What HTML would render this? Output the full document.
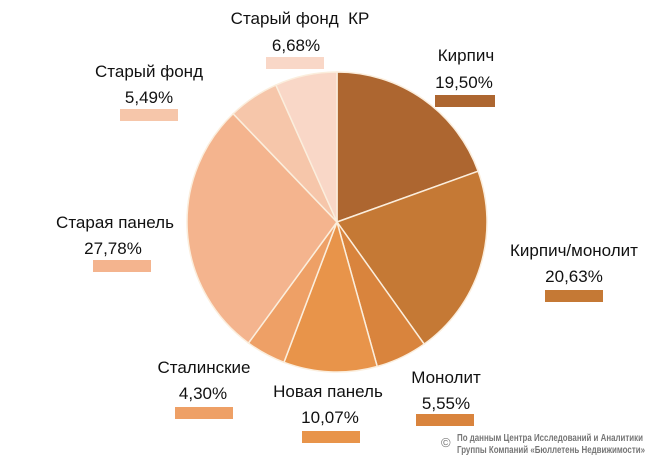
<!DOCTYPE html>
<html><head><meta charset="utf-8"><style>
body{margin:0;background:#fff;width:660px;height:460px;overflow:hidden;font-family:"Liberation Sans","DejaVu Sans",sans-serif}
svg text{font-family:"Liberation Sans","DejaVu Sans",sans-serif;fill:#111}
</style></head><body>
<svg id="s" width="660" height="460" xmlns="http://www.w3.org/2000/svg">
<g id="pie"></g>
<g font-size="17" text-anchor="middle">
<text x="300" y="24" xml:space="preserve">Старый фонд  КР</text><text x="296" y="51">6,68%</text>
<rect x="266" y="57" width="58" height="12" fill="#f9d7c7"/>
<text x="466" y="61">Кирпич</text><text x="464" y="88">19,50%</text>
<rect x="435" y="95" width="60" height="12" fill="#ad6630"/>
<text x="149" y="77">Старый фонд</text><text x="149" y="103">5,49%</text>
<rect x="120" y="109" width="58" height="12" fill="#f6c6aa"/>
<text x="115" y="228">Старая панель</text><text x="113" y="254">27,78%</text>
<rect x="93" y="260" width="58" height="12" fill="#f4b48e"/>
<text x="574" y="256">Кирпич/монолит</text><text x="574" y="282">20,63%</text>
<rect x="545" y="290" width="58" height="12" fill="#c57935"/>
<text x="204" y="373">Сталинские</text><text x="203" y="399">4,30%</text>
<rect x="175" y="407" width="58" height="12" fill="#eea066"/>
<text x="446" y="383">Монолит</text><text x="446" y="409">5,55%</text>
<rect x="416" y="414" width="58" height="12" fill="#d9843d"/>
<text x="328" y="397">Новая панель</text><text x="330" y="423">10,07%</text>
<rect x="302" y="431" width="58" height="12" fill="#e8944a"/>
</g>
<text x="441" y="447" font-size="13" style="fill:#777">©</text>
<g font-size="10" font-weight="bold"><text x="457" y="441" textLength="186" lengthAdjust="spacingAndGlyphs" style="fill:#777">По данным Центра Исследований и Аналитики</text><text x="457" y="453" textLength="188" lengthAdjust="spacingAndGlyphs" style="fill:#777">Группы Компаний «Бюллетень Недвижимости»</text></g>
</svg>
<script>
var d=[[19.5,"#ad6630"],[20.63,"#c57935"],[5.55,"#d9843d"],[10.07,"#e8944a"],[4.30,"#eea066"],[27.78,"#f4b48e"],[5.49,"#f6c6aa"],[6.68,"#f9d7c7"]];
var cx=337,cy=222,r=150,a=0,h="";
d.forEach(function(p){var a1=a+p[0]/100*2*Math.PI;
var x0=cx+r*Math.sin(a),y0=cy-r*Math.cos(a),x1=cx+r*Math.sin(a1),y1=cy-r*Math.cos(a1);
h+='<path d="M'+cx+','+cy+'L'+x0+','+y0+'A'+r+','+r+' 0 '+(a1-a>Math.PI?1:0)+' 1 '+x1+','+y1+'Z" fill="'+p[1]+'" stroke="#fbeedd" stroke-width="1.5"/>';a=a1;});
document.getElementById("pie").innerHTML=h;
</script>
</body></html>
